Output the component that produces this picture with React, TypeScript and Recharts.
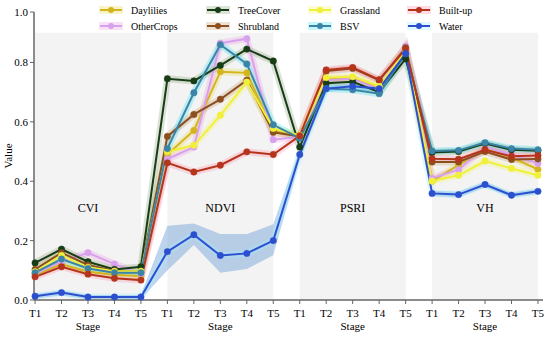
import { Area, ComposedChart, Line, ReferenceArea, ReferenceDot, XAxis, YAxis } from "recharts"

// stage labels / index groups
const stages = ["T1", "T2", "T3", "T4", "T5"]
const groups = ["CVI", "NDVI", "PSRI", "VH"]
const groupStart = [0, 5, 10, 15]
const yTicks = [0, 0.2, 0.4, 0.6, 0.8, 0.97]

// values per class: CVI T1-T5, NDVI T1-T5, PSRI T1-T5, VH T1-T5
const daylilies = [0.085, 0.12, 0.095, 0.085, 0.08, 0.49, 0.571, 0.769, 0.765, 0.569, 0.55, 0.745, 0.748, 0.715, 0.84, 0.4, 0.455, 0.51, 0.48, 0.44]
const otherCrops = [0.088, 0.13, 0.159, 0.121, 0.088, 0.475, 0.515, 0.865, 0.88, 0.54, 0.55, 0.74, 0.745, 0.71, 0.855, 0.41, 0.439, 0.515, 0.49, 0.46]
const treeCover = [0.125, 0.171, 0.129, 0.103, 0.112, 0.745, 0.738, 0.79, 0.845, 0.805, 0.515, 0.73, 0.735, 0.7, 0.812, 0.497, 0.5, 0.527, 0.506, 0.503]
const shrubland = [0.103, 0.159, 0.118, 0.098, 0.095, 0.551, 0.625, 0.676, 0.74, 0.565, 0.551, 0.771, 0.78, 0.74, 0.85, 0.465, 0.465, 0.5, 0.473, 0.475]
const grassland = [0.095, 0.15, 0.11, 0.097, 0.097, 0.5, 0.521, 0.622, 0.734, 0.578, 0.555, 0.749, 0.752, 0.72, 0.84, 0.401, 0.42, 0.468, 0.443, 0.42]
const bsv = [0.092, 0.138, 0.106, 0.092, 0.092, 0.51, 0.698, 0.86, 0.795, 0.59, 0.545, 0.712, 0.708, 0.695, 0.83, 0.502, 0.504, 0.53, 0.51, 0.506]
const builtUp = [0.078, 0.112, 0.087, 0.073, 0.067, 0.462, 0.431, 0.454, 0.499, 0.49, 0.553, 0.775, 0.783, 0.742, 0.845, 0.476, 0.474, 0.506, 0.484, 0.487]
const water = [0.013, 0.025, 0.01, 0.01, 0.01, 0.163, 0.22, 0.15, 0.157, 0.2, 0.49, 0.712, 0.72, 0.712, 0.83, 0.359, 0.355, 0.389, 0.353, 0.366]

// water confidence band
const waterLow = [0.005, 0.015, 0.003, 0.003, 0.003, 0.1, 0.185, 0.092, 0.104, 0.151, 0.47, 0.7, 0.71, 0.7, 0.82, 0.35, 0.345, 0.38, 0.345, 0.357]
const waterHigh = [0.02, 0.033, 0.017, 0.017, 0.017, 0.25, 0.258, 0.222, 0.222, 0.255, 0.51, 0.725, 0.73, 0.725, 0.84, 0.368, 0.365, 0.398, 0.362, 0.375]

const series = [
  { name: "Daylilies", values: daylilies, color: "#d4b51f", glow: "#e8d84a" },
  { name: "OtherCrops", values: otherCrops, color: "#d8a1ee", glow: "#f0a0e0" },
  { name: "TreeCover", values: treeCover, color: "#173d17", glow: "#8fa57a" },
  { name: "Shrubland", values: shrubland, color: "#8c4f1f", glow: "#c8a070" },
  { name: "Grassland", values: grassland, color: "#f0f03a", glow: "#f5f56a" },
  { name: "BSV", values: bsv, color: "#3b84a8", glow: "#40e0f0" },
  { name: "Built-up", values: builtUp, color: "#b5341c", glow: "#ff8fa8" },
  { name: "Water", values: water, color: "#2b4fcf", glow: "#a0f0ff" },
]

const data = water.map((_, i) => {
  const row: any = { x: i, band: [waterLow[i], waterHigh[i]] }
  series.forEach((s) => (row[s.name] = s.values[i]))
  return row
})

const font = "Liberation Serif, Tinos, DejaVu Serif, serif"

const StageTick = ({ x, y, payload }: any) => {
  const i = payload.value
  return (
    <g transform={`translate(${x},${y})`}>
      <text y={11} textAnchor="middle" fontSize={11} fontFamily={font} style={{ fontFamily: font }} fill="#000">
        {stages[i % 5]}
      </text>
      {i % 5 === 2 && (
        <text y={24} textAnchor="middle" fontSize={11} fontFamily={font} style={{ fontFamily: font }} fill="#000">
          Stage
        </text>
      )}
    </g>
  )
}

const legendX = [111, 218, 320, 419]
const legendY = [10, 26]

function Overlay() {
  return (
    <svg width={550} height={338} style={{ position: "absolute", left: 0, top: 0, pointerEvents: "none" }}>
      <text
        transform="translate(12,156) rotate(-90)"
        textAnchor="middle"
        fontSize={11}
        fontFamily={font}
        style={{ fontFamily: font }}
        fill="#000"
      >
        Value
      </text>
      {series.map((s, i) => {
        const cx = legendX[Math.floor(i / 2)]
        const cy = legendY[i % 2]
        return (
          <g key={s.name}>
            <rect x={cx - 12} y={cy - 4} width={24} height={8} fill={s.glow} opacity={0.3} />
            <line x1={cx - 11} x2={cx + 11} y1={cy} y2={cy} stroke={s.color} strokeWidth={2} />
            <circle cx={cx} cy={cy} r={3} fill={s.color} />
            <text x={cx + 20} y={cy + 4} fontSize={10} fontFamily={font} style={{ fontFamily: font }} fill="#000">
              {s.name}
            </text>
          </g>
        )
      })}
    </svg>
  )
}

export default function App() {
  return (
    <div style={{ position: "relative", width: 550, height: 338, background: "#fff", fontFamily: font }}>
      <style>{"body{margin:0} .recharts-text{font-family:" + font + "}"}</style>
      <ComposedChart width={550} height={338} data={data} margin={{ top: 12, right: 7, bottom: 0, left: 0 }}>
        {groupStart.map((g) => (
          <ReferenceArea key={g} x1={g} x2={g + 4} y1={0} y2={0.9} fill="#f3f3f3" fillOpacity={1} stroke="none" />
        ))}
        <XAxis
          dataKey="x"
          type="number"
          domain={[-0.04, 19.19]}
          ticks={data.map((d) => d.x)}
          interval={0}
          tick={<StageTick />}
          height={38}
          tickSize={4}
          axisLine={{ stroke: "#666", strokeWidth: 1.5 }}
          tickLine={{ stroke: "#666" }}
        />
        <YAxis
          type="number"
          domain={[0, 0.97]}
          ticks={yTicks}
          interval={0}
          width={34}
          tickSize={4}
          tickFormatter={(v: number) => (v > 0.9 ? "1.0" : v.toFixed(1))}
          tick={{ fontSize: 11, fontFamily: font, fill: "#000" }}
          axisLine={{ stroke: "#666", strokeWidth: 1.5 }}
          tickLine={{ stroke: "#666" }}
        />
        <Area dataKey="band" type="linear" stroke="none" fill="#6f9fd8" fillOpacity={0.45} isAnimationActive={false} />
        {series.map((s) => (
          <Line
            key={s.name + "-glow"}
            dataKey={s.name}
            type="linear"
            stroke={s.glow}
            strokeOpacity={0.3}
            strokeWidth={7}
            dot={false}
            activeDot={false}
            isAnimationActive={false}
          />
        ))}
        {series.map((s) => (
          <Line
            key={s.name}
            dataKey={s.name}
            type="linear"
            stroke={s.color}
            strokeWidth={2}
            dot={{ r: 3.2, fill: s.color, stroke: s.color, strokeWidth: 0.5 }}
            activeDot={false}
            isAnimationActive={false}
          />
        ))}
        {groups.map((g, i) => (
          <ReferenceDot
            key={g}
            x={groupStart[i] + 2}
            y={0.31}
            r={0}
            stroke="none"
            label={{ value: g, position: "center", fontSize: 12, fontFamily: font, fill: "#000" }}
          />
        ))}
      </ComposedChart>
      <Overlay />
    </div>
  )
}
